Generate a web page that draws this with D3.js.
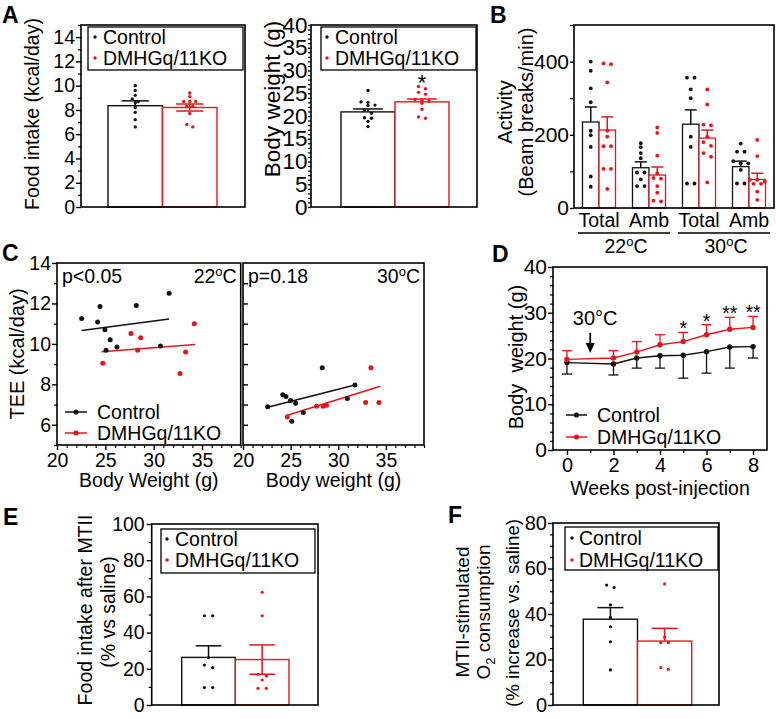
<!DOCTYPE html>
<html><head><meta charset="utf-8">
<script src="https://cdn.jsdelivr.net/npm/d3@7"></script>
<style>
body{margin:0;background:#fff}
svg{display:block;font-family:"Liberation Sans",Arial,Helvetica,sans-serif}
</style></head><body>
<svg id="fig" width="776" height="719"></svg>
<script>
// ---------------- DATA ----------------
const groups = ["Control", "DMHGq/11KO"];

// A: food intake
const foodMean = [8.35, 8.2];
const foodSem = [0.4, 0.29];
const foodCtrl = [10.0, 9.6, 9.2, 8.9, 8.6, 8.2, 7.8, 7.2, 6.6, 8.7];
const foodKO = [9.4, 9.1, 8.7, 8.7, 8.7, 8.3, 8.3, 7.7, 6.6, 6.8];
const foodTicks = [0, 2, 4, 6, 8, 10, 12, 14];

// A: body weight
const bwMean = [20.9, 23.1];
const bwSem = [0.65, 0.65];
const bwCtrlPts = [25.6, 23.1, 23.0, 22.4, 22.3, 21.3, 20.6, 19.6, 19.5, 18.8, 17.7];
const bwKOPts = [26.5, 26.0, 25.2, 24.8, 23.6, 23.4, 23.3, 22.8, 21.5, 19.8, 19.5];
const bwTicks = [0, 5, 10, 15, 20, 25, 30, 35, 40];

// B: activity
const actCats = ["Total", "Amb", "Total", "Amb"];
const actTemps = ["22", "30"];
const actMeanCtrl = [235, 110, 229, 113];
const actSemCtrl = [41, 16, 39, 15];
const actMeanKO = [213, 90, 191, 78];
const actSemKO = [36, 22, 22, 17];
const actCtrl = [
  [400, 375, 327, 289, 211, 199, 167, 86, 58],
  [177, 166, 150, 136, 97, 97, 78, 60, 60],
  [356, 356, 324, 300, 195, 167, 67, 67],
  [176, 154, 154, 128, 122, 122, 104, 67, 67]
];
const actKO = [
  [395, 393, 343, 211, 195, 169, 169, 107, 107, 52],
  [220, 205, 143, 95, 82, 80, 60, 42, 20, 18],
  [324, 283, 228, 226, 195, 180, 170, 150, 140, 70],
  [186, 142, 77, 77, 72, 66, 66, 45, 22]
];
const actTicks = [0, 200, 400];

// C: TEE vs body weight  [bodyWeight, TEE]
const teeCtrl22 = [[22.55,11.25],[24.45,11.85],[24.2,11.08],[24.96,10.7],[25.5,10.2],[25.07,9.68],[26.2,9.84],[28.2,11.9],[30.7,9.89],[31.6,12.51]];
const teeKO22 = [[24.73,9.04],[27.65,10.51],[28.65,10.3],[28.34,9.69],[32.72,8.53],[33.3,9.6],[34.2,10.99]];
const teeCtrl30 = [[22.59,6.89],[24.17,7.48],[24.51,7.40],[25.0,7.2],[25.53,7.07],[25.11,6.17],[26.33,6.61],[28.32,8.82],[30.95,7.30],[31.75,7.97]];
const teeKO30 = [[24.65,6.38],[27.72,6.92],[28.42,6.92],[28.77,6.97],[32.87,7.10],[33.43,8.82],[34.27,7.10]];
const fitCtrl22 = [[22.55,10.66],[31.6,11.23]];
const fitKO22 = [[24.6,9.61],[34.3,9.97]];
const fitCtrl30 = [[22.59,6.87],[31.75,7.97]];
const fitKO30 = [[24.5,6.45],[34.4,7.9]];
const teeYTicks = [6, 8, 10, 12, 14];
const teeXTicks = [20, 25, 30, 35];
const teeStats = ["p<0.05", "p=0.18"];

// D: body weight time course
const weeks = [0, 2, 3, 4, 5, 6, 7, 8];
const bwTcCtrl = [19.1, 18.8, 20.1, 20.6, 20.7, 21.5, 22.5, 22.6];
const bwTcCtrlErr = [2.5, 2.4, 2.2, 2.7, 5.0, 4.7, 4.6, 2.5];
const bwTcKO = [19.8, 20.1, 21.4, 23.0, 23.7, 25.2, 26.4, 26.8];
const bwTcKOErr = [1.9, 1.6, 2.3, 2.2, 2.0, 2.2, 2.6, 2.4];
const sigWeeks = [5, 6, 7, 8];
const sigMarks = ["*", "*", "**", "**"];
const arrowWeek = 1, arrowFrom = 25.6, arrowTo = 21.2;
const dYTicks = [0, 10, 20, 30, 40];
const dXTicks = [0, 2, 4, 6, 8];

// E: food intake after MTII
const eMean = [26.3, 25.1];
const eSem = [6.4, 8.1];
const eCtrl = [49.3, 49.3, 26.1, 22.1, 20.6, 9.6, 9.6];
const eKO = [62.3, 49.3, 17.0, 16.0, 13.8, 9.2, 9.2];
const eTicks = [0, 20, 40, 60, 80, 100];

// F: MTII-stimulated O2 consumption
const fMean = [37.7, 28.1];
const fSem = [5.1, 5.6];
const fCtrl = [52.7, 51.6, 44.0, 38.5, 34.4, 27.8, 15.4];
const fKO = [53.2, 29.8, 27.4, 27.4, 16.4, 15.7];
const fTicks = [0, 20, 40, 60, 80];

// ---------------- DRAWING ----------------
const RED = "#e8141c", BLACK = "#111";
const colors = [BLACK, RED];
const svg = d3.select("#fig");

function swarm(vals, cx, yS, spacing, gap) {
  const pts = vals.map(v => ({v, y: yS(v)})).sort((a, b) => a.y - b.y);
  const rows = [];
  pts.forEach(p => {
    const last = rows[rows.length - 1];
    if (last && p.y - last[0].y < gap) last.push(p); else rows.push([p]);
  });
  const out = [];
  rows.forEach(row => row.forEach((p, i) => out.push({x: cx + (i - (row.length - 1) / 2) * spacing, y: p.y})));
  return out;
}

function frame(x0, x1, y0, y1) {
  svg.append("rect").attr("x", x0).attr("y", y0).attr("width", x1 - x0).attr("height", y1 - y0)
    .attr("fill", "none").attr("stroke", "#000").attr("stroke-width", 1.6);
}

function minorVals(lo, hi, step, major) {
  return d3.range(lo, hi + step / 2, step).filter(v => !major.some(m => Math.abs(m - v) < 1e-9));
}

function axisV(x, scale, major, minor, o) {
  const gen = o.right ? d3.axisRight(scale) : d3.axisLeft(scale);
  gen.tickValues(major).tickSize(o.tick).tickPadding(o.pad);
  if (o.nolabel) gen.tickFormat(""); else gen.tickFormat(d3.format("d"));
  const a = svg.append("g").attr("transform", `translate(${x},0)`).call(gen);
  a.attr("font-size", o.fs).attr("font-family", null);
  a.select(".domain").remove();
  a.selectAll(".tick line").attr("stroke", "#000").attr("stroke-width", 1.4);
  a.selectAll(".tick text").attr("fill", "#000");
  if (minor && minor.length) {
    const g2 = o.right ? d3.axisRight(scale) : d3.axisLeft(scale);
    const m = svg.append("g").attr("transform", `translate(${x},0)`)
      .call(g2.tickValues(minor).tickSize(o.minorTick).tickFormat(""));
    m.select(".domain").remove();
    m.selectAll(".tick line").attr("stroke", "#000").attr("stroke-width", 1.2);
  }
}

function axisH(y, scale, major, minor, o) {
  const a = svg.append("g").attr("transform", `translate(0,${y})`)
    .call(d3.axisBottom(scale).tickValues(major).tickSize(o.tick).tickPadding(o.pad).tickFormat(d3.format("d")));
  a.attr("font-size", o.fs).attr("font-family", null);
  a.select(".domain").remove();
  a.selectAll(".tick line").attr("stroke", "#000").attr("stroke-width", 1.4);
  a.selectAll(".tick text").attr("fill", "#000");
  if (minor && minor.length) {
    const m = svg.append("g").attr("transform", `translate(0,${y})`)
      .call(d3.axisBottom(scale).tickValues(minor).tickSize(o.minorTick).tickFormat(""));
    m.select(".domain").remove();
    m.selectAll(".tick line").attr("stroke", "#000").attr("stroke-width", 1.2);
  }
}

function vLabel(text, cx, cy, fs) {
  return svg.append("text").attr("transform", `translate(${cx},${cy}) rotate(-90)`)
    .attr("text-anchor", "middle").attr("dy", "0.35em").attr("font-size", fs).style("white-space", "pre").text(text);
}

function letter(t, x, y) {
  svg.append("text").attr("x", x).attr("y", y).attr("font-size", 23).attr("font-weight", "bold").text(t);
}

function boxLegend(o) {
  svg.append("rect").attr("x", o.x0).attr("y", o.y0).attr("width", o.x1 - o.x0).attr("height", o.y1 - o.y0)
    .attr("fill", "#fff").attr("stroke", "#000").attr("stroke-width", 1.3);
  groups.forEach((gname, i) => {
    svg.append("circle").attr("cx", o.dotX).attr("cy", o.rows[i]).attr("r", 1.7).attr("fill", colors[i]);
    svg.append("text").attr("x", o.textX).attr("y", o.rows[i]).attr("dy", "0.35em").attr("font-size", o.fs).text(gname);
  });
}

function lineLegend(o) {
  groups.forEach((gname, i) => {
    svg.append("line").attr("x1", o.x0).attr("x2", o.x1).attr("y1", o.rows[i]).attr("y2", o.rows[i])
      .attr("stroke", colors[i]).attr("stroke-width", 1.5);
    svg.append("circle").attr("cx", (o.x0 + o.x1) / 2).attr("cy", o.rows[i]).attr("r", 2.6).attr("fill", colors[i]);
    svg.append("text").attr("x", o.textX).attr("y", o.rows[i]).attr("dy", "0.35em").attr("font-size", o.fs).text(gname);
  });
}

function barPanel(o) {
  const y = d3.scaleLinear().domain(o.domain).range([o.y1, o.y0]);
  const x = d3.scaleBand().domain(groups).range([o.barL, o.barR]);
  svg.append("g").selectAll("rect").data(o.means).join("rect")
    .attr("x", (d, i) => x(groups[i])).attr("width", x.bandwidth())
    .attr("y", d => y(d)).attr("height", d => o.y1 - y(d))
    .attr("fill", "#fff").attr("stroke", (d, i) => colors[i]).attr("stroke-width", 1.4);
  [o.ctrl, o.ko].forEach((vals, i) => {
    const cx = x(groups[i]) + x.bandwidth() / 2;
    svg.append("g").selectAll("circle").data(swarm(vals, cx, y, o.spacing, o.gap)).join("circle")
      .attr("cx", p => p.x).attr("cy", p => p.y).attr("r", o.r).attr("fill", colors[i]);
  });
  o.means.forEach((m, i) => {
    const cx = x(groups[i]) + x.bandwidth() / 2;
    const cw = x.bandwidth() * o.capFrac / 2;
    const top = y(m + o.sems[i]);
    const bot = o.errDown[i] ? y(m - o.sems[i]) : y(m);
    const g = svg.append("g").attr("stroke", colors[i]).attr("stroke-width", 1.5);
    g.append("line").attr("x1", cx).attr("x2", cx).attr("y1", top).attr("y2", bot);
    g.append("line").attr("x1", cx - cw).attr("x2", cx + cw).attr("y1", top).attr("y2", top);
    if (o.errDown[i]) g.append("line").attr("x1", cx - cw).attr("x2", cx + cw).attr("y1", bot).attr("y2", bot);
  });
  frame(o.x0, o.x1, o.y0, o.y1);
  axisV(o.x0, y, o.major, o.minor, o.axis);
  return {x, y};
}

// ---- Panel A: food intake ----
letter("A", 2, 23);
barPanel({x0: 81, x1: 245, y0: 25, y1: 207, domain: [0, 15], barL: 108, barR: 217,
  means: foodMean, sems: foodSem, ctrl: foodCtrl, ko: foodKO, errDown: [false, true],
  spacing: 6, gap: 3.5, r: 1.7, capFrac: 0.5,
  major: foodTicks, minor: minorVals(0, 15, 1, foodTicks),
  axis: {tick: 5, pad: 1, fs: 19.5, minorTick: 3}});
boxLegend({x0: 88, x1: 243, y0: 27, y1: 70, rows: [37, 58], dotX: 95, textX: 103, fs: 19.5});
vLabel("Food intake (kcal/day)", 32, 114, 19.5);

// ---- Panel A: body weight ----
const a2 = barPanel({x0: 311, x1: 477, y0: 25, y1: 207, domain: [0, 40], barL: 341, barR: 449,
  means: bwMean, sems: bwSem, ctrl: bwCtrlPts, ko: bwKOPts, errDown: [false, false],
  spacing: 7, gap: 3.5, r: 1.7, capFrac: 0.55,
  major: bwTicks, minor: minorVals(0, 40, 1, bwTicks),
  axis: {tick: 3, pad: 0.5, fs: 22.5, minorTick: 3}});
boxLegend({x0: 321, x1: 476, y0: 27, y1: 70, rows: [37, 58], dotX: 327, textX: 335, fs: 19.5});
svg.append("text").attr("x", a2.x(groups[1]) + a2.x.bandwidth() / 2).attr("y", a2.y(bwMean[1] + bwSem[1]) - 9)
  .attr("text-anchor", "middle").attr("font-size", 22).text("*");
vLabel("Body weight (g)", 272, 99, 22.5);

// ---- Panel B: activity ----
letter("B", 490, 23);
{
  const y = d3.scaleLinear().domain([0, 500]).range([208, 25]);
  const x = d3.scaleBand().domain(d3.range(actCats.length)).range([574, 774]);
  const sub = d3.scaleBand().domain(groups).range([-16.5, 16.5]);
  const means = [actMeanCtrl, actMeanKO], sems = [actSemCtrl, actSemKO], dots = [actCtrl, actKO];
  actCats.forEach((c, k) => {
    const c0 = x(k) + x.bandwidth() / 2;
    groups.forEach((gname, i) => {
      const bx = c0 + sub(gname);
      const m = means[i][k];
      svg.append("rect").attr("x", bx).attr("width", sub.bandwidth()).attr("y", y(m)).attr("height", 208 - y(m))
        .attr("fill", "#fff").attr("stroke", colors[i]).attr("stroke-width", 1.3);
      const cx = bx + sub.bandwidth() / 2;
      svg.append("g").selectAll("circle").data(swarm(dots[i][k], cx, y, 7.5, 4)).join("circle")
        .attr("cx", p => p.x).attr("cy", p => p.y).attr("r", 1.9).attr("fill", colors[i]);
      const top = y(m + sems[i][k]);
      const g = svg.append("g").attr("stroke", colors[i]).attr("stroke-width", 1.5);
      g.append("line").attr("x1", cx).attr("x2", cx).attr("y1", top).attr("y2", y(m));
      g.append("line").attr("x1", cx - 6).attr("x2", cx + 6).attr("y1", top).attr("y2", top);
    });
    svg.append("text").attr("x", c0).attr("y", 227).attr("text-anchor", "middle").attr("font-size", 19.5).text(c);
  });
  frame(574, 774, 25, 208);
  axisV(574, y, actTicks, [100, 300, 500], {tick: 4, pad: 1, fs: 21, minorTick: 4});
  actTemps.forEach((t, j) => {
    const xa = x(2 * j) + 4, xb = x(2 * j + 1) + x.bandwidth() - 4;
    svg.append("line").attr("x1", xa).attr("x2", xb).attr("y1", 233).attr("y2", 233).attr("stroke", "#000").attr("stroke-width", 1.6);
    const tx = svg.append("text").attr("x", (xa + xb) / 2 + 2).attr("y", 253).attr("text-anchor", "middle").attr("font-size", 19.5);
    tx.append("tspan").text(t);
    tx.append("tspan").attr("dy", -7).attr("font-size", 13).text("o");
    tx.append("tspan").attr("dy", 7).text("C");
  });
  vLabel("Activity", 505, 112, 20);
  vLabel("(Beam breaks/min)", 526, 112, 20);
}

// ---- Panel C: TEE ----
letter("C", 2, 261);
function teePanel(o) {
  const x = d3.scaleLinear().domain([20, 39]).range([o.x0, o.x1]);
  const y = d3.scaleLinear().domain([5, 14]).range([445, 263]);
  const line = d3.line().x(d => x(d[0])).y(d => y(d[1]));
  [o.fitC, o.fitK].forEach((f, i) => {
    svg.append("path").attr("d", line(f)).attr("fill", "none").attr("stroke", colors[i]).attr("stroke-width", 1.6);
  });
  [o.ptsC, o.ptsK].forEach((pts, i) => {
    svg.append("g").selectAll("circle").data(pts).join("circle")
      .attr("cx", d => x(d[0])).attr("cy", d => y(d[1])).attr("r", 2.5).attr("fill", colors[i]);
  });
  frame(o.x0, o.x1, 263, 445);
  axisH(445, x, teeXTicks, minorVals(20, 39, 1, teeXTicks), {tick: 5, pad: 3, fs: 19.5, minorTick: 3});
  svg.append("text").attr("x", o.x0 + 5).attr("y", 283).attr("font-size", 19.5).text(o.stat);
  const tx = svg.append("text").attr("x", o.x1 - 4).attr("y", 283).attr("text-anchor", "end").attr("font-size", 19.5);
  tx.append("tspan").text(o.temp);
  tx.append("tspan").attr("dy", -7).attr("font-size", 13).text("o");
  tx.append("tspan").attr("dy", 7).text("C");
  svg.append("text").attr("x", (o.x0 + o.x1) / 2).attr("y", 480).attr("dy", "0.35em").attr("text-anchor", "middle")
    .attr("font-size", 19.5).text(o.xlabel);
  return {x, y};
}
const c1 = teePanel({x0: 57, x1: 240.7, fitC: fitCtrl22, fitK: fitKO22, ptsC: teeCtrl22, ptsK: teeKO22,
  stat: teeStats[0], temp: "22", xlabel: "Body Weight (g)"});
axisV(57, c1.y, teeYTicks, minorVals(5, 14, 1, teeYTicks), {tick: 5, pad: 1, fs: 19.5, minorTick: 3});
const c2 = teePanel({x0: 243, x1: 424, fitC: fitCtrl30, fitK: fitKO30, ptsC: teeCtrl30, ptsK: teeKO30,
  stat: teeStats[1], temp: "30", xlabel: "Body weight (g)"});
axisV(243, c2.y, d3.range(6, 14, 1), null, {tick: 5, pad: 1, fs: 19.5, right: true, nolabel: true});
lineLegend({x0: 65, x1: 87, rows: [412, 433], textX: 97, fs: 19.5});
vLabel("TEE (kcal/day)", 17, 354, 20);

// ---- Panel D: body weight time course ----
letter("D", 492, 262);
{
  const x = d3.scaleLinear().domain([-0.6, 8.6]).range([553, 767]);
  const y = d3.scaleLinear().domain([0, 40]).range([450, 267]);
  const line = d3.line().x(d => x(d[0])).y(d => y(d[1]));
  const series = [
    {m: bwTcCtrl, e: bwTcCtrlErr, dir: -1},
    {m: bwTcKO, e: bwTcKOErr, dir: 1}
  ];
  series.forEach((s, i) => {
    const g = svg.append("g").attr("stroke", colors[i]).attr("stroke-width", 1.3);
    weeks.forEach((w, k) => {
      const y0 = y(s.m[k]), y1 = y(s.m[k] + s.dir * s.e[k]);
      g.append("line").attr("x1", x(w)).attr("x2", x(w)).attr("y1", y0).attr("y2", y1);
      g.append("line").attr("x1", x(w) - 5).attr("x2", x(w) + 5).attr("y1", y1).attr("y2", y1);
    });
  });
  series.forEach((s, i) => {
    svg.append("path").attr("d", line(weeks.map((w, k) => [w, s.m[k]]))).attr("fill", "none")
      .attr("stroke", colors[i]).attr("stroke-width", 1.4);
    svg.append("g").selectAll("circle").data(weeks.map((w, k) => [w, s.m[k]])).join("circle")
      .attr("cx", d => x(d[0])).attr("cy", d => y(d[1])).attr("r", 2.7).attr("fill", colors[i]);
  });
  sigWeeks.forEach((w, j) => {
    const k = weeks.indexOf(w);
    svg.append("text").attr("x", x(w)).attr("y", y(bwTcKO[k] + bwTcKOErr[k]) + 3).attr("text-anchor", "middle")
      .attr("font-size", 19.5).text(sigMarks[j]);
  });
  // 30°C arrow annotation
  const ax = x(arrowWeek);
  svg.append("line").attr("x1", ax).attr("x2", ax).attr("y1", y(arrowFrom)).attr("y2", y(arrowTo) - 8)
    .attr("stroke", "#000").attr("stroke-width", 1.8);
  svg.append("path").attr("d", `M${ax - 4.5},${y(arrowTo) - 10}L${ax + 4.5},${y(arrowTo) - 10}L${ax},${y(arrowTo)}Z`).attr("fill", "#000");
  svg.append("text").attr("x", ax + 5).attr("y", y(arrowFrom) - 8).attr("text-anchor", "middle").attr("font-size", 20).text("30°C");
  frame(553, 767, 267, 450);
  axisV(553, y, dYTicks, minorVals(0, 40, 2, dYTicks), {tick: 5, pad: 1, fs: 21, minorTick: 3});
  axisH(450, x, dXTicks, [1, 3, 5, 7], {tick: 5, pad: 3, fs: 20, minorTick: 3});
  lineLegend({x0: 566, x1: 587, rows: [415, 437], textX: 597, fs: 19.5});
  vLabel("Body  weight (g)", 516, 357, 20);
  svg.append("text").attr("x", 660).attr("y", 488).attr("dy", "0.35em").attr("text-anchor", "middle")
    .attr("font-size", 19.5).text("Weeks post-injection");
}

// ---- Panel E ----
letter("E", 3, 525);
barPanel({x0: 151.7, x1: 318, y0: 524, y1: 705, domain: [0, 100], barL: 181.7, barR: 289,
  means: eMean, sems: eSem, ctrl: eCtrl, ko: eKO, errDown: [false, true],
  spacing: 8.3, gap: 3.5, r: 1.6, capFrac: 0.48,
  major: eTicks, minor: minorVals(0, 100, 10, eTicks),
  axis: {tick: 5, pad: 2, fs: 19.5, minorTick: 3}});
boxLegend({x0: 161, x1: 315, y0: 529, y1: 573, rows: [539, 560], dotX: 167, textX: 175, fs: 19.5});
vLabel("Food intake after MTII", 85, 610, 19.5);
vLabel("(% vs saline)", 108, 612, 19.5);

// ---- Panel F ----
letter("F", 448, 523);
barPanel({x0: 553, x1: 719, y0: 523, y1: 705, domain: [0, 80], barL: 583.3, barR: 691.7,
  means: fMean, sems: fSem, ctrl: fCtrl, ko: fKO, errDown: [false, false],
  spacing: 7.5, gap: 3.5, r: 1.6, capFrac: 0.48,
  major: fTicks, minor: minorVals(0, 80, 5, fTicks),
  axis: {tick: 5, pad: 1, fs: 20, minorTick: 3}});
boxLegend({x0: 565, x1: 718, y0: 527, y1: 570, rows: [538, 560], dotX: 572, textX: 579, fs: 19.5});
vLabel("MTII-stimulated", 462, 612, 19);
{
  const t = svg.append("text").attr("transform", "translate(483,612) rotate(-90)")
    .attr("text-anchor", "middle").attr("dy", "0.35em").attr("font-size", 19);
  t.append("tspan").text("O");
  t.append("tspan").attr("dy", 5).attr("font-size", 13).text("2");
  t.append("tspan").attr("dy", -5).text(" consumption");
}
vLabel("(% increase vs. saline)", 512, 613, 18.7);
</script></body></html>
